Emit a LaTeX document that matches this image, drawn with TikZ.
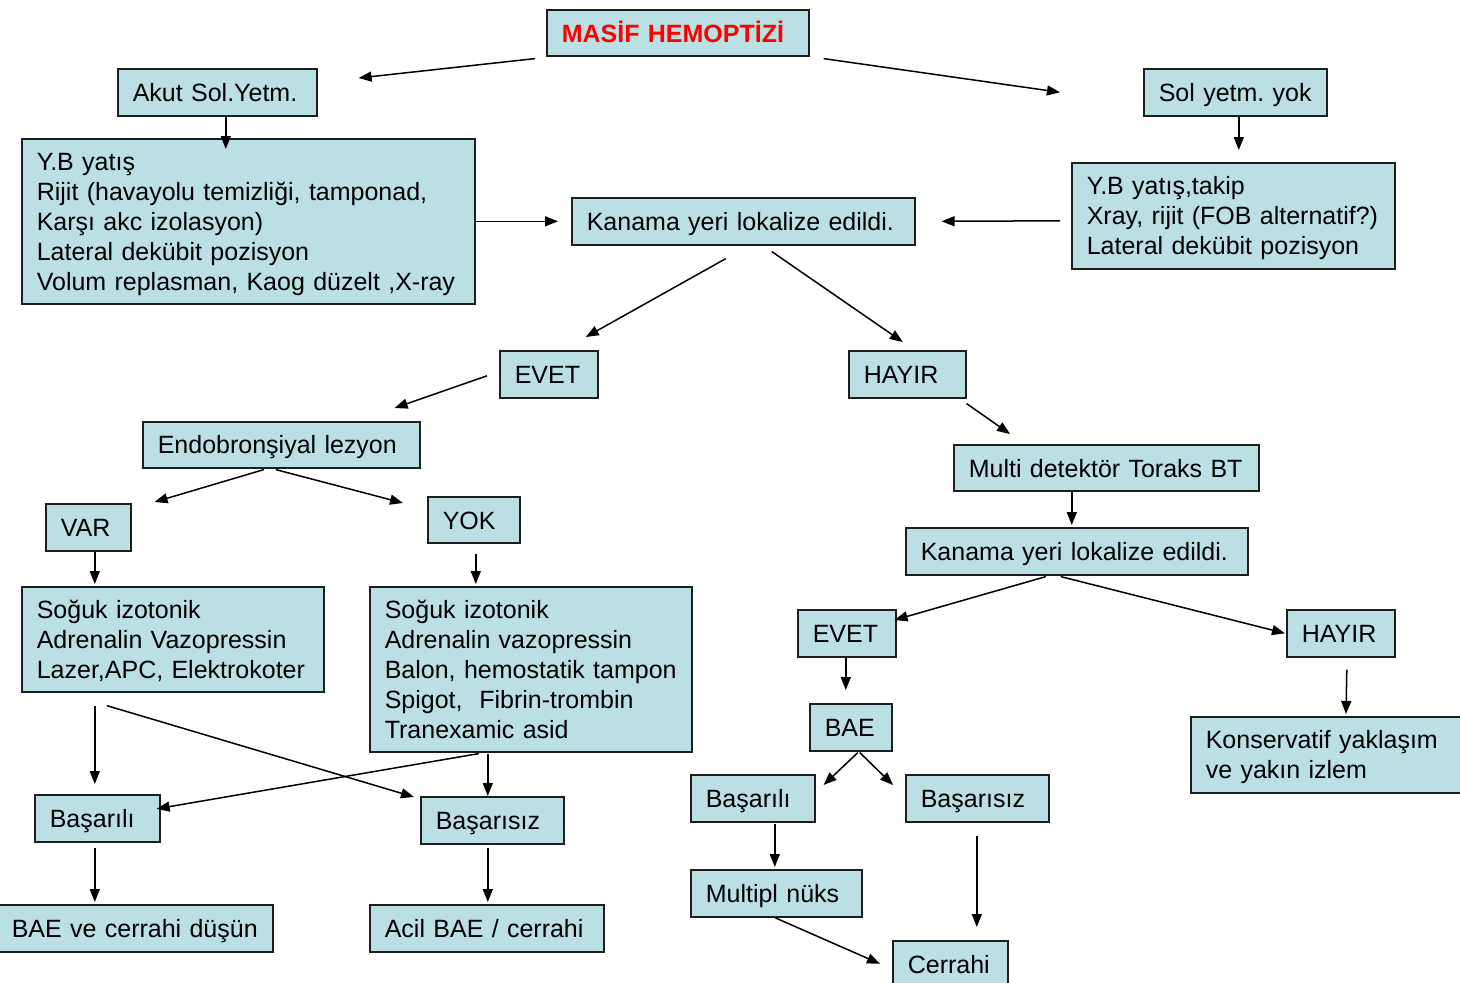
\documentclass[tikz,border=0pt]{standalone}
\usepackage{fontspec}
\setmainfont{Liberation Sans}
\usetikzlibrary{arrows.meta,calc}
\definecolor{boxfill}{RGB}{187,224,227}
\definecolor{boxline}{RGB}{30,30,30}
\definecolor{titlered}{RGB}{255,0,0}
\newcommand\boxstrut{\rule[-4pt]{0pt}{27pt}}
\tikzset{
  bx/.style={draw=boxline, fill=boxfill, line width=1.6pt, inner xsep=15pt, inner ysep=3pt,
    align=left, anchor=north west, font=\fontsize{25}{30}\selectfont\frenchspacing,
    execute at begin node=\boxstrut, execute at end node=\boxstrut},
  arr/.style={draw=black, line width=1.5pt, -{Triangle[length=13pt,width=10pt]}},
}
\newcommand\bx[6]{\node[bx, text width=\the\dimexpr#4pt-30pt\relax, minimum height=#5pt] (#1) at (#2,#3) {#6};}
\begin{document}
\begin{tikzpicture}[x=1pt,y=-1pt]
\useasboundingbox (0,0) rectangle (1460,983);
\clip (0,0) rectangle (1460,983);
\fill[white] (0,0) rectangle (1460,983);
% boxes
\bx{ms}{546}{9}{262}{46}{\textcolor{titlered}{\bfseries MASİF HEMOPTİZİ}}
\bx{akut}{117}{68}{199}{47}{Akut Sol.Yetm.}
\bx{ybone}{21}{138}{453}{165}{Y.B yatış\\Rijit (havayolu temizliği, tamponad,\\Karşı akc izolasyon)\\Lateral dekübit pozisyon\\Volum replasman, Kaog düzelt ,X-ray}
\bx{sol}{1143}{68}{183}{47}{Sol yetm. yok}
\bx{ybtwo}{1071}{162}{323}{106}{Y.B yatış,takip\\Xray, rijit (FOB alternatif?)\\Lateral dekübit pozisyon}
\bx{kanone}{571}{197}{343}{47}{Kanama yeri lokalize edildi.}
\bx{evetone}{499}{350}{98}{47}{EVET}
\bx{hayirone}{848}{350}{117}{47}{HAYIR}
\bx{endo}{142}{421}{277}{46}{Endobronşiyal lezyon}
\bx{var}{45}{503}{85}{47}{VAR}
\bx{yok}{427}{496}{92}{46}{YOK}
\bx{sogone}{21}{586}{302}{105}{Soğuk izotonik\\Adrenalin Vazopressin\\Lazer,APC, Elektrokoter}
\bx{sogtwo}{369}{586}{322}{165}{Soğuk izotonik\\Adrenalin vazopressin\\Balon, hemostatik tampon\\Spigot,\ \ Fibrin-trombin\\Tranexamic asid}
\bx{basone}{34}{794}{125}{47}{Başarılı}
\bx{baszone}{420}{796}{143}{47}{Başarısız}
\bx{baeve}{-4}{904}{276}{47}{BAE ve cerrahi düşün}
\bx{acil}{369}{904}{234}{47}{Acil BAE / cerrahi}
\bx{multi}{953}{444}{305}{46}{Multi detektör Toraks BT}
\bx{kantwo}{905}{527}{342}{47}{Kanama yeri lokalize edildi.}
\bx{evettwo}{797}{609}{98}{47}{EVET}
\bx{hayirtwo}{1286}{609}{108}{47}{HAYIR}
\bx{bae}{809}{703}{82}{47}{BAE}
\bx{bastwo}{690}{774}{124}{47}{Başarılı}
\bx{basztwo}{905}{774}{143}{47}{Başarısız}
\bx{mult}{690}{869}{171}{47}{Multipl nüks}
\bx{cerr}{892}{940}{115}{46}{Cerrahi}
\bx{kons}{1190}{716}{290}{76}{Konservatif yaklaşım\\ve yakın izlem}
% connectors
\draw[arr] ($(ms.south west)+(-11,2)$) -- ($(akut.north east)+(41,10)$);
\draw[arr] ($(ms.south east)+(14,2)$) -- ($(sol.west)+(-83,0)$);
\draw[arr] ($(akut.south)+(8.5,0)$) -- ($(ybone.north)+(-22.5,11)$);
\draw[arr] ($(sol.south)+(3.5,0)$) -- ($(ybtwo.north)+(5.5,-12)$);
\draw[arr] (ybone.east) -- ($(kanone.west)+(-13,0)$);
\draw[arr] ($(ybtwo.west)+(-11,5)$) -- ($(kanone.east)+(26,0)$);
\draw[arr] ($(kanone.south)+(-17.5,13)$) -- ($(evetone.north)+(37,-13)$);
\draw[arr] ($(kanone.south)+(28.5,6)$) -- ($(hayirone.north)+(-4.5,-8)$);
\draw[arr] ($(evetone.west)+(-12,1.5)$) -- ($(endo.north east)+(-26,-13)$);
\draw[arr] ($(hayirone.south east)+(0,5)$) -- ($(multi.north west)+(57,-10)$);
\draw[arr] ($(endo.south)+(-17.5,1)$) -- ($(var.north east)+(23,-1)$);
\draw[arr] ($(endo.south)+(-5.5,1)$) -- ($(yok.north west)+(-24,7)$);
\draw[arr] ($(var.south)+(6.5,0)$) -- ($(sogone.north)+(-78,-2)$);
\draw[arr] ($(yok.south)+(2,10)$) -- ($(sogtwo.north)+(-55,-2)$);
\draw[arr] ($(sogone.south)+(-78,13)$) -- ($(basone.north)+(-2.5,-10)$);
\draw[arr] ($(sogone.south)+(-66,13)$) -- ($(baszone.north west)+(-6,1)$);
\draw[arr] ($(sogtwo.south)+(-52,1)$) -- ($(basone.east)+(-4,-9.5)$);
\draw[arr] ($(sogtwo.south)+(-43,1)$) -- ($(baszone.north)+(-4.5,0)$);
\draw[arr] ($(basone.south)+(-2.5,5)$) -- ($(baeve.north)+(-40,-2)$);
\draw[arr] ($(baszone.south)+(-4.5,3)$) -- ($(acil.north)+(1,-2)$);
\draw[arr] ($(multi.south)+(-34.5,0)$) -- ($(kantwo.north)+(-5,-2)$);
\draw[arr] ($(kantwo.south)+(-31,1)$) -- ($(evettwo.north east)+(-2,11)$);
\draw[arr] ($(kantwo.south)+(-16,1)$) -- ($(hayirtwo.west)+(-1,0)$);
\draw[arr] ($(evettwo.south)+(-1,0)$) -- ($(bae.north)+(-5,-13)$);
\draw[arr] ($(hayirtwo.south)+(6,12)$) -- ($(kons.north west)+(156,-2)$);
\draw[arr] ($(bae.south)+(7,1)$) -- ($(bastwo.north east)+(8,11)$);
\draw[arr] ($(bae.south)+(9,1)$) -- ($(basztwo.north west)+(-12,11)$);
\draw[arr] ($(bastwo.south)+(22,1)$) -- ($(mult.north)+(-1.5,-2)$);
\draw[arr] ($(basztwo.south)+(-0.5,13)$) -- ($(cerr.north)+(26.5,-13)$);
\draw[arr] ($(mult.south)+(-1.5,0)$) -- ($(cerr.west)+(-12,0)$);
\end{tikzpicture}
\end{document}
